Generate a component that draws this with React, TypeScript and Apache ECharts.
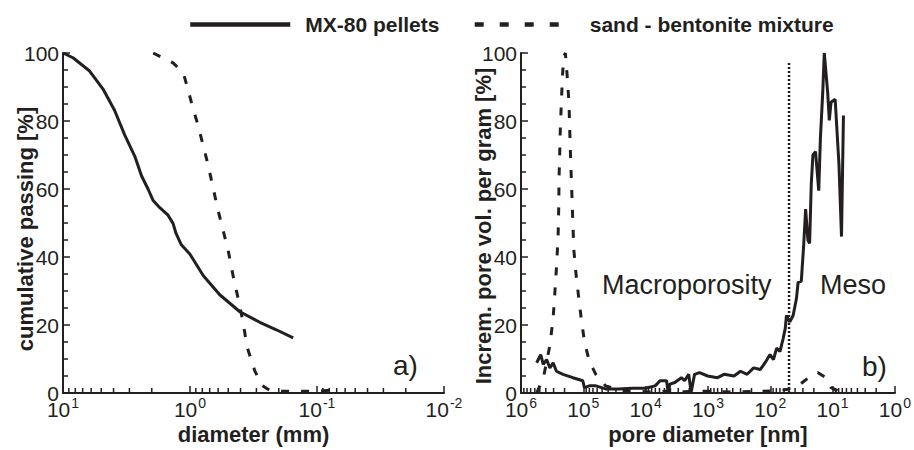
import React, { useEffect, useRef } from "react";
import * as echarts from "echarts";

// ---------- data ----------
const SERIES_A = "MX-80 pellets";
const SERIES_B = "sand - bentonite mixture";

// panel a) grain size distribution: [diameter (mm), cumulative passing %]
const pelletsGrading: [number, number][] = [
  [10, 100], [8.34, 98.6], [6.17, 94.7], [4.84, 89.4], [3.92, 83.1], [3.27, 75.9],
  [2.72, 69.6], [2.41, 63.9], [2.14, 60], [1.95, 56.6], [1.73, 54.5], [1.49, 52.3],
  [1.36, 49.9], [1.29, 47], [1.17, 43.6], [1.0, 40.8], [0.785, 34.5], [0.583, 28.9],
  [0.405, 23.9], [0.282, 20.8], [0.209, 18.6], [0.154, 16.2],
];
const mixtureGrading: [number, number][] = [
  [1.95, 100], [1.36, 97.1], [1.13, 94.2], [1.04, 89.4], [0.946, 83.6], [0.865, 78.8],
  [0.79, 73], [0.722, 67.2], [0.659, 60.5], [0.602, 53.8], [0.55, 48], [0.502, 42.2],
  [0.458, 34.5], [0.419, 28], [0.383, 21], [0.355, 13.5], [0.309, 6.5], [0.27, 2.2],
  [0.235, 0.75], [0.2, 0.5], [0.15, 0.5], [0.1, 0.5], [0.079, 0.8],
];

// panel b) incremental pore volume: [pore diameter (nm), % ]
const pelletsPores: [number, number][] = [
  [560000, 8.9], [483000, 11.3], [439000, 8.4], [388000, 9.8], [344000, 7.4], [305000, 8.9],
  [270000, 6.4], [212000, 5.5], [147000, 4.5], [102000, 3.6], [96000, 1.6], [80000, 2.1],
  [63000, 2.1], [44000, 1.2], [27000, 1.2], [16500, 1.4], [10100, 1.4], [7050, 2.1],
  [5870, 3.6], [4620, 3.6], [4350, 0.2], [4080, 2.6], [3400, 3.1], [2670, 4.5],
  [2370, 3.6], [2040, 5.5], [1860, 0.2], [1640, 5.5], [1370, 6], [1010, 5],
  [703, 4.5], [551, 5.5], [382, 5], [301, 6.4], [235, 5.5], [185, 7.4],
  [145, 6.9], [121, 8.9], [101, 11.3], [89, 9.8], [79, 13.2], [70, 12.2],
  [62, 16.1], [57.5, 19], [55, 22.8], [48.6, 20.9], [43, 22.8], [38.1, 27.7],
  [35.8, 32.5], [31.8, 32.9], [29.2, 43.1], [27.1, 54.1], [24.9, 45], [23.4, 44],
  [22.0, 61.4], [20.7, 70], [18.8, 71], [16.7, 59.5], [15.7, 74.9], [14.4, 88.4],
  [13.6, 100], [12.0, 88.4], [11.3, 80.2], [10.6, 85.5], [9.1, 86.4], [7.9, 67.1],
  [7.2, 46], [6.7, 81.6],
];
const mixturePores: [number, number][] = [
  [560000, 0], [437000, 4.5], [344000, 14], [305000, 22], [286000, 29.6], [269000, 37.3],
  [254000, 46], [248000, 54.6], [245000, 63.3], [239000, 71], [233000, 78.7], [224000, 86.4],
  [216000, 93.2], [207000, 98.9], [194000, 100], [183000, 94.1], [170000, 85.5], [166000, 78.7],
  [160000, 69.1], [152000, 57.5], [147000, 49.8], [142000, 42.1], [130000, 34.4], [118000, 27.7],
  [108000, 21.9], [96000, 15.1], [80000, 9.3], [63000, 5.5], [44000, 2.1], [23800, 0.7],
  [15000, 0.5], [8000, 0.3], [5000, 0.5], [2500, 0.4], [1000, 0.5], [400, 0.3],
  [150, 0.5], [80, 0.6], [55, 1.0], [35.8, 2.1], [20.7, 5.5], [17.3, 6.0],
  [12.8, 4.5], [10.6, 1.6], [8.3, 0.7], [7.6, 1.5], [7.0, 0.5],
];

// macro / meso boundary (nm)
const boundaryLine: [number, number][] = [[50, 0], [50, 97.5]];

// axis ranges and log minor tick multipliers
const LEFT_X_RANGE = [0.01, 10];
const RIGHT_X_RANGE = [1, 1e6];
const LEFT_DECADES = [0.01, 0.1, 1];
const RIGHT_DECADES = [1, 10, 100, 1000, 10000, 100000];
const MINOR_MULTIPLIERS = [2, 3, 4, 5, 6, 7, 8, 9];

const INK = "#231f20";
const FONT = '"Liberation Sans", Arial, Helvetica, sans-serif';

function minorTicks(decades: number[]): [number, number][] {
  const out: [number, number][] = [];
  decades.forEach((d) => MINOR_MULTIPLIERS.forEach((m) => out.push([d * m, 0])));
  return out;
}

const powLabel = (v: number) => {
  const e = Math.round(Math.log10(v));
  return `{b|10}{s|${e}}`;
};

function xAxis(gridIndex: number, range: number[], name: string) {
  return {
    type: "log",
    logBase: 10,
    gridIndex,
    min: range[0],
    max: range[1],
    inverse: true,
    axisLine: { show: true, onZero: false, lineStyle: { color: INK, width: 2 } },
    axisTick: { show: true, inside: true, length: 7, lineStyle: { color: INK, width: 1.5 } },
    axisLabel: {
      formatter: powLabel,
      margin: 3,
      color: INK,
      rich: {
        b: { fontSize: 21, color: INK, fontFamily: FONT },
        s: { fontSize: 14, color: INK, fontFamily: FONT, padding: [0, 0, 13, 1] },
      },
    },
    splitLine: { show: false },
    name,
    nameLocation: "middle",
    nameGap: 30,
    nameMoveOverlap: false,
    nameTextStyle: { fontSize: 22, fontWeight: "bold", color: INK, fontFamily: FONT },
  };
}

function yAxis(gridIndex: number, name: string, shift: number) {
  return {
    type: "value",
    gridIndex,
    min: 0,
    max: 100,
    interval: 20,
    axisLine: { show: true, lineStyle: { color: INK, width: 2 } },
    axisTick: { show: true, inside: true, length: 7, lineStyle: { color: INK, width: 1.5 } },
    minorTick: { show: true, splitNumber: 4, length: 5, lineStyle: { color: INK, width: 1.5 } },
    axisLabel: { fontSize: 21, color: INK, margin: 4, fontFamily: FONT },
    splitLine: { show: false },
    minorSplitLine: { show: false },
    name,
    nameLocation: "middle",
    nameRotate: 90,
    nameGap: 27,
    nameMoveOverlap: false,
    nameTextStyle: {
      fontSize: 22,
      fontWeight: "bold",
      color: INK,
      fontFamily: FONT,
      padding: [0, shift, 0, 0],
    },
  };
}

function curve(name: string, data: [number, number][], idx: number, dashed: boolean) {
  return {
    type: "line",
    name,
    data,
    xAxisIndex: idx,
    yAxisIndex: idx,
    symbol: "none",
    smooth: false,
    clip: false,
    lineStyle: { color: INK, width: 3, type: dashed ? [8, 12] : "solid" },
    itemStyle: { color: INK },
    z: 4,
  };
}

function tickSeries(data: [number, number][], idx: number) {
  return {
    type: "custom",
    xAxisIndex: idx,
    yAxisIndex: idx,
    data,
    encode: { x: 0, y: 1 },
    clip: false,
    silent: true,
    z: 5,
    renderItem: (_p: any, api: any) => {
      const pt = api.coord([api.value(0), 0]);
      return {
        type: "line",
        shape: { x1: pt[0], y1: pt[1], x2: pt[0], y2: pt[1] - 5 },
        style: { stroke: INK, lineWidth: 1.5 },
      };
    },
  };
}

export default function App() {
  const ref = useRef<HTMLDivElement>(null);
  useEffect(() => {
    if (!ref.current) return;
    const chart = echarts.init(ref.current, undefined, { renderer: "svg" });
    chart.setOption({
      animation: false,
      backgroundColor: "#ffffff",
      textStyle: { fontFamily: FONT, color: INK },
      legend: {
        left: 183,
        top: 9,
        itemWidth: 100,
        itemHeight: 14,
        itemGap: 33,
        textStyle: { fontSize: 21, fontWeight: "bold", color: INK, fontFamily: FONT, padding: [0, 0, 0, 10] },
        itemStyle: { opacity: 0, borderWidth: 0 },
        lineStyle: { width: 4.5, color: INK },
        data: [
          { name: SERIES_A, itemStyle: { opacity: 0 }, lineStyle: { type: "solid", width: 4.5, color: INK } },
          { name: SERIES_B, itemStyle: { opacity: 0 }, lineStyle: { type: [9, 16], width: 4.5, color: INK } },
        ],
      },
      grid: [
        { left: 63, top: 53, width: 381, height: 346 },
        { left: 521, top: 53, width: 379, height: 346 },
      ],
      xAxis: [
        xAxis(0, LEFT_X_RANGE, "diameter (mm)"),
        xAxis(1, RIGHT_X_RANGE, "pore diameter [nm]"),
      ],
      yAxis: [
        yAxis(0, "cumulative passing [%]", 12),
        yAxis(1, "Increm. pore vol. per gram [%]", 6),
      ],
      graphic: [
        { type: "text", left: 393, top: 351, style: { text: "a)", font: `28px ${FONT}`, fill: INK } },
        { type: "text", left: 862, top: 352, style: { text: "b)", font: `28px ${FONT}`, fill: INK } },
        { type: "text", left: 602, top: 271, style: { text: "Macroporosity", font: `27px ${FONT}`, fill: INK } },
        { type: "text", left: 820, top: 271, style: { text: "Meso", font: `27px ${FONT}`, fill: INK } },
      ],
      series: [
        curve(SERIES_A, pelletsGrading, 0, false),
        curve(SERIES_B, mixtureGrading, 0, true),
        curve(SERIES_A, pelletsPores, 1, false),
        curve(SERIES_B, mixturePores, 1, true),
        {
          type: "line",
          name: "boundary",
          data: boundaryLine,
          xAxisIndex: 1,
          yAxisIndex: 1,
          symbol: "none",
          lineStyle: { color: INK, width: 2.5, type: [2, 2] },
          z: 3,
        },
        tickSeries(minorTicks(LEFT_DECADES), 0),
        tickSeries(minorTicks(RIGHT_DECADES), 1),
      ],
    });
    return () => chart.dispose();
  }, []);
  return (
    <div
      ref={ref}
      style={{ position: "absolute", left: 0, top: 0, width: 914, height: 450, background: "#fff" }}
    />
  );
}
